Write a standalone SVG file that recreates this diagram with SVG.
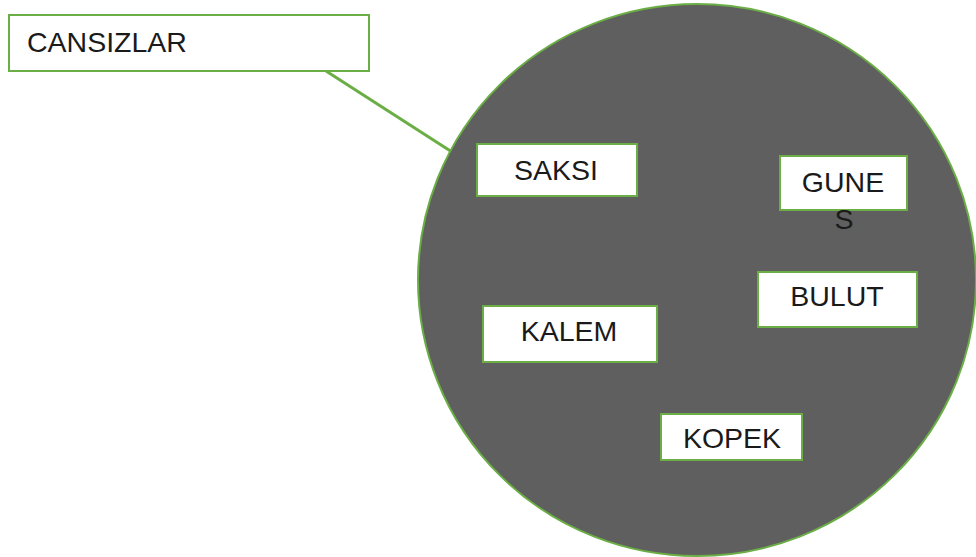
<svg xmlns="http://www.w3.org/2000/svg" width="976" height="557" viewBox="0 0 976 557">
<style>
.box{fill:#ffffff;stroke:#6aae45;stroke-width:2}
.lbl{font-family:"Liberation Sans",Arial,sans-serif;font-size:28.5px;fill:#1a1a1a}
.c{text-anchor:middle}
</style>
<rect width="976" height="557" fill="#ffffff"/>
<g id="connectors">
<line x1="326" y1="71" x2="452" y2="152" stroke="#6aae45" stroke-width="3"/>
</g>
<g id="circle">
<ellipse cx="697" cy="280" rx="279" ry="276" fill="#5f5f5f" stroke="#6aae45" stroke-width="2"/>
</g>
<g id="cansizlar">
<rect class="box" x="9" y="15" width="360" height="56"/>
<text class="lbl" x="27" y="52">CANSIZLAR</text>
</g>
<g id="saksi">
<rect class="box" x="477" y="144" width="160" height="52"/>
<text class="lbl c" x="556" y="180">SAKSI</text>
</g>
<g id="gunes">
<rect class="box" x="780" y="156" width="127" height="54"/>
<text class="lbl c" x="843" y="192">GUNE</text>
<text class="lbl c" x="844" y="229">S</text>
</g>
<g id="bulut">
<rect class="box" x="758" y="272" width="159" height="55"/>
<text class="lbl c" x="837" y="306">BULUT</text>
</g>
<g id="kalem">
<rect class="box" x="483" y="306" width="174" height="56"/>
<text class="lbl c" x="569" y="341">KALEM</text>
</g>
<g id="kopek">
<rect class="box" x="661" y="414" width="141" height="46"/>
<text class="lbl c" x="732" y="448">KOPEK</text>
</g>
</svg>
